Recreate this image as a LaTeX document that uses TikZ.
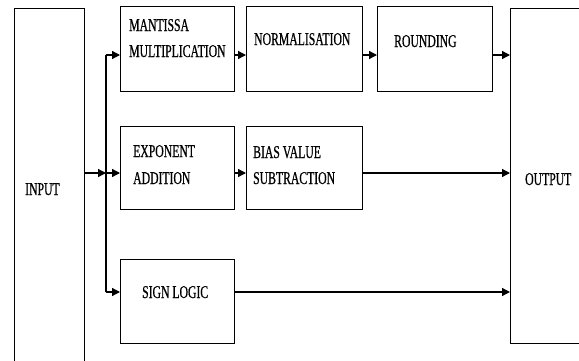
\documentclass[tikz,border=0pt]{standalone}
\usepackage{fontspec}
\newfontfamily\diafont[FakeStretch=0.65,FakeBold=0.6]{Liberation Serif}
\usetikzlibrary{arrows.meta}
\begin{document}
\begin{tikzpicture}[x = 1pt, y = -1pt,
  blk/.style = {draw, line width = 1.2pt, inner sep = 0pt, anchor = north west},
  txt/.style = {anchor = base west, inner sep = 0pt, font = \diafont\fontsize{18}{22}\selectfont},
  arr/.style = {line width = 1.3pt, -{Triangle[length = 8pt, width = 8pt]}}]
\useasboundingbox (0,0) rectangle (579,360);
\clip (0,0) rectangle (579,360);
\fill[white] (0,0) rectangle (579,360);
% boxes
\node[blk, minimum width = 70pt, minimum height = 400pt] at (14,8) (inp) {};
\node[blk, minimum width = 114pt, minimum height = 85pt] at (120,6) (mant) {};
\node[blk, minimum width = 116pt, minimum height = 85pt] at (246,6) (norm) {};
\node[blk, minimum width = 115pt, minimum height = 85pt] at (377,6) (round) {};
\node[blk, minimum width = 114pt, minimum height = 83pt] at (120,126) (expo) {};
\node[blk, minimum width = 116pt, minimum height = 83pt] at (246,126) (bias) {};
\node[blk, minimum width = 114pt, minimum height = 84pt] at (120,259) (sign) {};
\node[blk, minimum width = 120pt, minimum height = 335pt] at (510,8) (out) {};
% texts
\node[txt] at (25,195) (tinp) {INPUT};
\node[txt] at (129,31) (tmant1) {MANTISSA};
\node[txt] at (129,57) (tmant2) {MULTIPLICATION};
\node[txt] at (254,45) (tnorm) {NORMALISATION};
\node[txt] at (394,47) (tround) {ROUNDING};
\node[txt] at (133,157) (texpo1) {EXPONENT};
\node[txt] at (133,184) (texpo2) {ADDITION};
\node[txt] at (253,158) (tbias1) {BIAS VALUE};
\node[txt] at (253,184) (tbias2) {SUBTRACTION};
\node[txt] at (142,298) (tsign) {SIGN LOGIC};
\node[txt] at (525,185) (tout) {OUTPUT};
% rows and split point
\coordinate (r1) at (0,55);
\coordinate (r2) at (0,173);
\coordinate (r3) at (0,292);
\coordinate (split) at (106,173);
% connectors
\draw[arr] (inp.east |- r2) -- (split);
\draw[line width = 1.2pt] (split |- r1) -- (split |- r3);
\draw[arr] (split |- r1) -- (mant.west |- r1);
\draw[arr] (split) -- (expo.west |- r2);
\draw[arr] (split |- r3) -- (sign.west |- r3);
\draw[arr] (mant.east |- r1) -- (norm.west |- r1);
\draw[arr] (norm.east |- r1) -- (round.west |- r1);
\draw[arr] (round.east |- r1) -- (out.west |- r1);
\draw[arr] (expo.east |- r2) -- (bias.west |- r2);
\draw[arr] (bias.east |- r2) -- (out.west |- r2);
\draw[arr] (sign.east |- r3) -- (out.west |- r3);
\end{tikzpicture}
\end{document}
